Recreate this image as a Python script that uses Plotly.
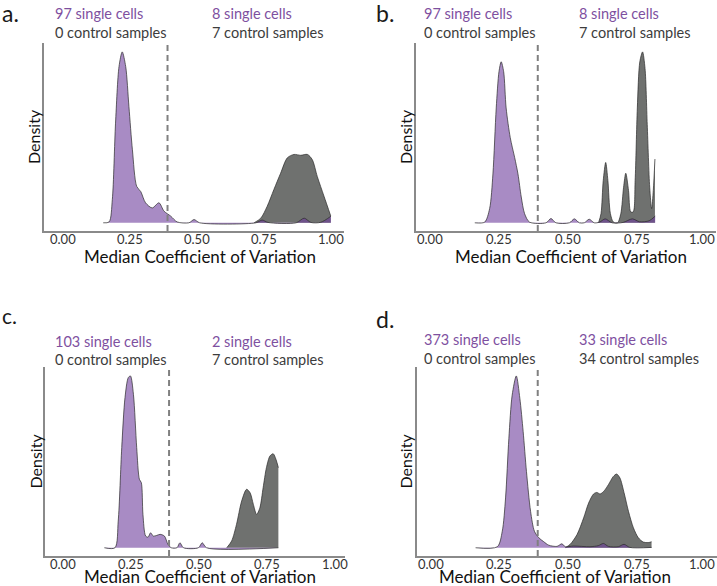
import plotly.graph_objects as go

W, H = 717, 586

# ---------------- data (density, scaled so each panel max = 1) ----------------
tick_vals = [0.0, 0.25, 0.5, 0.75, 1.0]
tick_text = ["0.00", "0.25", "0.50", "0.75", "1.00"]
cutoff = 0.39

panel_letters = ["a.", "b.", "c.", "d."]
left_cells = ["97 single cells", "97 single cells", "103 single cells", "373 single cells"]
left_ctrl = ["0 control samples", "0 control samples", "0 control samples", "0 control samples"]
right_cells = ["8 single cells", "8 single cells", "2 single cells", "33 single cells"]
right_ctrl = ["7 control samples", "7 control samples", "7 control samples", "34 control samples"]

a_cells_x = [0.150, 0.172, 0.184, 0.196, 0.209, 0.221, 0.234, 0.246, 0.259, 0.275, 0.290, 0.308, 0.333,
             0.358, 0.377, 0.402, 0.426, 0.470, 0.489, 0.510, 0.720, 0.743, 0.765, 0.870, 0.900, 0.925,
             0.962, 1.000]
a_cells_y = [0, 0.005, 0.135, 0.583, 0.914, 1.0, 0.914, 0.68, 0.427, 0.213, 0.183, 0.117, 0.087,
             0.117, 0.068, 0.039, 0.005, 0, 0.019, 0, 0, 0.016, 0.002, 0, 0.027, 0.002,
             0.003, 0.039]
a_ctrl_x = [0.713, 0.738, 0.762, 0.787, 0.812, 0.837, 0.862, 0.887, 0.912, 0.930, 0.949, 0.974, 0.999]
a_ctrl_y = [0, 0.027, 0.097, 0.195, 0.29, 0.38, 0.40, 0.395, 0.40, 0.37, 0.27, 0.155, 0.04]

b_cells_x = [0.161, 0.197, 0.215, 0.227, 0.239, 0.249, 0.257, 0.266, 0.275, 0.290, 0.306, 0.318, 0.330,
             0.342, 0.360, 0.420, 0.438, 0.456, 0.505, 0.523, 0.541, 0.559, 0.577, 0.595, 0.615,
             0.635, 0.660, 0.700, 0.734, 0.760, 0.795, 0.817]
b_cells_y = [0, 0.004, 0.083, 0.286, 0.672, 0.884, 0.942, 0.884, 0.672, 0.498, 0.382, 0.286, 0.151,
             0.054, 0.004, 0, 0.025, 0, 0, 0.023, 0, 0, 0.021, 0, 0.004,
             0.023, 0, 0.002, 0.023, 0.006, 0.012, 0.039]
b_ctrl_x = [0.611, 0.620, 0.628, 0.637, 0.645, 0.654, 0.665, 0.680, 0.692, 0.702, 0.710, 0.720, 0.728,
            0.737, 0.744, 0.752, 0.761, 0.771, 0.780, 0.788, 0.797, 0.804, 0.810, 0.816]
b_ctrl_y = [0, 0.054, 0.247, 0.353, 0.247, 0.054, 0.004, 0, 0.054, 0.208, 0.29, 0.189, 0.064,
            0.064, 0.247, 0.672, 0.942, 1.0, 0.903, 0.575, 0.208, 0.083, 0.189, 0.373]

c_cells_x = [0.152, 0.191, 0.203, 0.216, 0.228, 0.240, 0.248, 0.259, 0.271, 0.281, 0.288, 0.294, 0.304,
             0.313, 0.322, 0.332, 0.345, 0.357, 0.373, 0.386, 0.398, 0.419, 0.430, 0.443, 0.498,
             0.512, 0.528, 0.792]
c_cells_y = [0, 0, 0.155, 0.583, 0.874, 0.99, 1.0, 0.893, 0.583, 0.398, 0.379, 0.194, 0.068,
             0.062, 0.087, 0.068, 0.072, 0.078, 0.068, 0.02, 0, 0, 0.029, 0, 0,
             0.029, 0, 0]
c_ctrl_x = [0.602, 0.620, 0.638, 0.657, 0.675, 0.688, 0.700, 0.712, 0.724, 0.736, 0.748, 0.761, 0.773,
            0.783, 0.792]
c_ctrl_y = [0, 0.039, 0.136, 0.272, 0.34, 0.32, 0.252, 0.194, 0.233, 0.35, 0.466, 0.534, 0.547,
            0.515, 0.466]

d_cells_x = [0.164, 0.243, 0.261, 0.273, 0.285, 0.297, 0.312, 0.325, 0.337, 0.349, 0.364, 0.378, 0.394,
             0.412, 0.430, 0.460, 0.478, 0.490, 0.520, 0.580, 0.610, 0.629, 0.647, 0.683, 0.704,
             0.725, 0.804]
d_cells_y = [0, 0.006, 0.096, 0.29, 0.637, 0.888, 1.0, 0.869, 0.676, 0.444, 0.212, 0.096, 0.058,
             0.035, 0.015, 0.008, 0.023, 0.006, 0.01, 0.006, 0.012, 0.025, 0.008, 0.006, 0.02,
             0.002, 0.002]
d_ctrl_x = [0.490, 0.508, 0.533, 0.557, 0.575, 0.593, 0.605, 0.617, 0.632, 0.647, 0.665, 0.677, 0.689,
            0.704, 0.720, 0.738, 0.756, 0.774, 0.792, 0.804]
d_ctrl_y = [0, 0.02, 0.077, 0.174, 0.26, 0.313, 0.322, 0.313, 0.332, 0.367, 0.415, 0.429, 0.406,
            0.32, 0.212, 0.116, 0.058, 0.033, 0.03, 0.035]

cells_x = [a_cells_x, b_cells_x, c_cells_x, d_cells_x]
cells_y = [a_cells_y, b_cells_y, c_cells_y, d_cells_y]
ctrl_x = [a_ctrl_x, b_ctrl_x, c_ctrl_x, d_ctrl_x]
ctrl_y = [a_ctrl_y, b_ctrl_y, c_ctrl_y, d_ctrl_y]

# ---------------- styling / geometry ----------------
FONT = "Lato"
PURPLE_TXT = "#7E509F"
DARK_TXT = "#3C3C3C"
GRAY_FILL = "#6F716F"
PURPLE_FILL = "rgba(110,62,157,0.6)"
OUTLINE = "#2a2a2a"

panels = [
    dict(px=(44, 344), py=(43, 231), xr=(-0.0709, 1.0485), tcx=200, tcy=256, dcx=33, tky=239,
         lx=0, ly=13.5, ls=23, t1=53, t2=210, r1=13.5, r2=32.5, right=False),
    dict(px=(416, 716), py=(43, 231), xr=(-0.0527, 1.038), tcx=571, tcy=256, dcx=405, tky=239,
         lx=374, ly=13, ls=23, t1=422, t2=577, r1=13.5, r2=32.5, right=True),
    dict(px=(45, 345), py=(367, 556), xr=(-0.0662, 1.037), tcx=200, tcy=576.5, dcx=35, tky=564,
         lx=0, ly=315, ls=21, t1=53, t2=210, r1=341, r2=359.5, right=False),
    dict(px=(417, 717), py=(367, 556), xr=(-0.0491, 1.042), tcx=555, tcy=576.5, dcx=405, tky=564,
         lx=374, ly=319, ls=23, t1=422, t2=577, r1=339.5, r2=358, right=True),
]

fig = go.Figure()
annotations = []
shapes = []
layout_axes = {}


def px2x(v):
    return v / W


def px2y(v):
    return 1 - v / H


for i, p in enumerate(panels):
    n = "" if i == 0 else str(i + 1)
    xa, ya = "x" + n, "y" + n
    layout_axes["xaxis" + n] = dict(
        domain=[px2x(p["px"][0]), px2x(p["px"][1])], range=list(p["xr"]), anchor=ya,
        showline=True, linecolor="#8a8a8a", linewidth=1.5, showgrid=False, zeroline=False,
        tickvals=tick_vals, showticklabels=False, ticks="", fixedrange=True,
    )
    layout_axes["yaxis" + n] = dict(
        domain=[px2y(p["py"][1]), px2y(p["py"][0])], range=[-0.048, 1.052], anchor=xa,
        showline=True, linecolor="#8a8a8a", linewidth=1.5, showgrid=False, zeroline=False,
        showticklabels=False, ticks="", fixedrange=True,
    )
    # control samples (gray), drawn first
    fig.add_trace(go.Scatter(
        x=ctrl_x[i], y=ctrl_y[i], xaxis=xa, yaxis=ya, mode="lines",
        line=dict(color=OUTLINE, width=0.7, shape="spline", smoothing=0.8),
        fill="tozeroy", fillcolor=GRAY_FILL, hoverinfo="skip", showlegend=False,
    ))
    # single cells (purple, translucent)
    fig.add_trace(go.Scatter(
        x=cells_x[i], y=cells_y[i], xaxis=xa, yaxis=ya, mode="lines",
        line=dict(color=OUTLINE, width=0.7, shape="spline", smoothing=0.8),
        fill="tozeroy", fillcolor=PURPLE_FILL, hoverinfo="skip", showlegend=False,
    ))
    # cutoff line
    shapes.append(dict(type="line", xref=xa, yref=ya + " domain", x0=cutoff, x1=cutoff, y0=0, y1=1,
                       line=dict(color="#808080", width=2, dash="6px,4px")))
    # tick labels (positioned through the axis scale)
    for tv, tt in zip(tick_vals, tick_text):
        if p["right"] and tv == tick_vals[-1]:
            annotations.append(dict(text=tt, x=1, xref="paper", xanchor="right",
                                    y=px2y(p["tky"]), yref="paper", yanchor="middle", showarrow=False,
                                    font=dict(family=FONT, size=13, color="#333333")))
        else:
            annotations.append(dict(text=tt, x=tv, xref=xa, xanchor="center",
                                    y=px2y(p["tky"]), yref="paper", yanchor="middle", showarrow=False,
                                    font=dict(family=FONT, size=13, color="#333333")))
    # text
    annotations.append(dict(text=panel_letters[i], x=px2x(p["lx"]), y=px2y(p["ly"]), xref="paper",
                            yref="paper", xanchor="left", yanchor="middle", showarrow=False,
                            font=dict(family=FONT, size=p["ls"], color="#1a1a1a")))
    for txt, tx, ty, col in [
        (left_cells[i], p["t1"], p["r1"], PURPLE_TXT),
        (left_ctrl[i], p["t1"], p["r2"], DARK_TXT),
        (right_cells[i], p["t2"], p["r1"], PURPLE_TXT),
        (right_ctrl[i], p["t2"], p["r2"], DARK_TXT),
    ]:
        annotations.append(dict(text=txt, x=px2x(tx), y=px2y(ty), xref="paper", yref="paper",
                                xanchor="left", yanchor="middle", showarrow=False,
                                font=dict(family=FONT, size=14.5, color=col)))
    annotations.append(dict(text="Median Coefficient of Variation", x=px2x(p["tcx"]), y=px2y(p["tcy"]),
                            xref="paper", yref="paper", xanchor="center", yanchor="middle",
                            showarrow=False, font=dict(family=FONT, size=17, color="#111111")))
    annotations.append(dict(text="Density", x=px2x(p["dcx"]),
                            y=px2y((p["py"][0] + p["py"][1]) / 2), xref="paper", yref="paper",
                            xanchor="center", yanchor="middle", textangle=-90, showarrow=False,
                            font=dict(family=FONT, size=16, color="#111111")))

fig.update_layout(
    width=W, height=H, margin=dict(l=0, r=0, t=0, b=0),
    paper_bgcolor="white", plot_bgcolor="white",
    annotations=annotations, shapes=shapes, showlegend=False,
    **layout_axes,
)

fig.write_html("out.html", config={"displayModeBar": False},
               post_script="document.body.style.margin='0';document.body.style.padding='0';")
